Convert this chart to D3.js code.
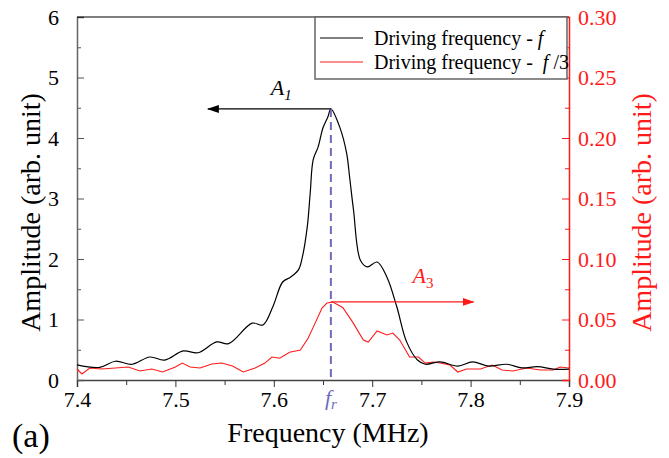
<!DOCTYPE html>
<html>
<head>
<meta charset="utf-8">
<script src="https://cdn.jsdelivr.net/npm/d3@7"></script>
<style>
  body { margin: 0; background: #fff; }
  svg text { font-family: "Liberation Serif", "Times New Roman", serif; }
</style>
</head>
<body>
<svg id="chart" width="669" height="458"></svg>
<script>
// --- Data ---
const freqF = [7.400, 7.423, 7.439, 7.456, 7.474, 7.489, 7.508, 7.523, 7.542, 7.554,
  7.578, 7.589, 7.599, 7.609, 7.617, 7.625, 7.629, 7.634, 7.637, 7.640, 7.645, 7.650,
  7.655, 7.658, 7.667, 7.674, 7.677, 7.681, 7.688, 7.695, 7.705, 7.715, 7.725, 7.735,
  7.746, 7.754, 7.769, 7.787, 7.802, 7.818, 7.837, 7.852, 7.868, 7.884, 7.900];
const ampF = [0.25, 0.21, 0.31, 0.26, 0.38, 0.33, 0.48, 0.45, 0.63, 0.60,
  0.94, 0.91, 1.21, 1.62, 1.70, 1.82, 2.03, 2.53, 3.09, 3.64, 3.85, 4.17,
  4.35, 4.48, 4.18, 3.75, 3.36, 2.81, 1.98, 1.87, 1.95, 1.70, 1.21, 0.63,
  0.33, 0.26, 0.30, 0.23, 0.30, 0.23, 0.26, 0.20, 0.22, 0.18, 0.18];

const freqF3 = [7.400, 7.405, 7.413, 7.425, 7.439, 7.452, 7.464, 7.476, 7.487, 7.500,
  7.507, 7.515, 7.525, 7.537, 7.547, 7.558, 7.569, 7.581, 7.591, 7.598, 7.606, 7.616,
  7.627, 7.635, 7.642, 7.649, 7.654, 7.660, 7.670, 7.680, 7.691, 7.696, 7.705, 7.715,
  7.721, 7.728, 7.738, 7.747, 7.754, 7.762, 7.769, 7.779, 7.787, 7.796, 7.810, 7.822,
  7.832, 7.843, 7.857, 7.871, 7.884, 7.891, 7.900];
const ampF3 = [0.0091, 0.0050, 0.0099, 0.0091, 0.0099, 0.0107, 0.0074, 0.0091, 0.0066, 0.0107,
  0.0140, 0.0107, 0.0099, 0.0132, 0.0140, 0.0116, 0.0066, 0.0099, 0.0140, 0.0190, 0.0180, 0.0230,
  0.0248, 0.0347, 0.0470, 0.0595, 0.0636, 0.0645, 0.0600, 0.0480, 0.0330, 0.0314, 0.0405, 0.0372,
  0.0388, 0.0330, 0.0190, 0.0190, 0.0140, 0.0149, 0.0140, 0.0124, 0.0066, 0.0091, 0.0091, 0.0124,
  0.0083, 0.0074, 0.0099, 0.0083, 0.0083, 0.0107, 0.0099];

const xTicks = [7.4, 7.5, 7.6, 7.7, 7.8, 7.9];
const yLeftTicks = [0, 1, 2, 3, 4, 5, 6];
const yRightTicks = [0, 0.05, 0.10, 0.15, 0.20, 0.25, 0.30];

const peakFreq = 7.658, peakA1 = 4.48, peakA3 = 0.0645;
const arrowA1End = 7.533, arrowA3End = 7.803;

// --- Layout ---
const svg = d3.select("#chart");
const width = +svg.attr("width"), height = +svg.attr("height");
const margin = { top: 17, right: 100, bottom: 78, left: 77 };
const innerW = width - margin.left - margin.right,
  innerH = height - margin.top - margin.bottom;
const red = "#ff1a1a", blue = "#6c6cb8";
const serif = "Liberation Serif, Times New Roman, serif";

const g = svg.append("g").attr("transform", `translate(${margin.left},${margin.top})`);

const x = d3.scaleLinear().domain([7.4, 7.9]).range([0, innerW]);
const yL = d3.scaleLinear().domain([0, 6]).range([innerH, 0]);
const yR = d3.scaleLinear().domain([0, 0.3]).range([innerH, 0]);

// --- Axes ---
const tickFont = (sel) => sel.attr("font-family", serif).selectAll("text").attr("font-size", 22);

// minor ticks first, then major
g.append("g").attr("transform", `translate(0,${innerH})`)
  .call(d3.axisBottom(x).tickValues(d3.range(7.45, 7.9, 0.1)).tickSize(5).tickFormat(""))
  .call((a) => a.select(".domain").remove())
  .selectAll("line").attr("stroke", "#333");
const xAxis = g.append("g").attr("transform", `translate(0,${innerH})`)
  .call(d3.axisBottom(x).tickValues(xTicks).tickSize(7).tickPadding(4).tickFormat(d3.format(".1f")));
xAxis.select(".domain").attr("stroke", "#444").attr("stroke-width", 1.5);
xAxis.selectAll("line").attr("stroke", "#333");
xAxis.call(tickFont).selectAll("text").attr("fill", "#000");

g.append("g")
  .call(d3.axisLeft(yL).tickValues(d3.range(0.5, 6, 1)).tickSize(-4).tickFormat(""))
  .call((a) => a.select(".domain").remove())
  .selectAll("line").attr("stroke", "#555");
const yAxisL = g.append("g")
  .call(d3.axisLeft(yL).tickValues(yLeftTicks).tickSize(-7).tickPadding(18).tickFormat(d3.format("d")));
yAxisL.select(".domain").attr("stroke", "#666").attr("stroke-width", 1.5);
yAxisL.selectAll("line").attr("stroke", "#555");
yAxisL.call(tickFont).selectAll("text").attr("fill", "#000");

g.append("line").attr("x1", 0).attr("x2", innerW).attr("y1", 0).attr("y2", 0)
  .attr("stroke", "#000").attr("stroke-width", 1.2);

g.append("g").attr("transform", `translate(${innerW},0)`)
  .call(d3.axisRight(yR).tickValues(d3.range(0.025, 0.3, 0.05)).tickSize(-4).tickFormat(""))
  .call((a) => a.select(".domain").remove())
  .selectAll("line").attr("stroke", red);
const yAxisR = g.append("g").attr("transform", `translate(${innerW},0)`)
  .call(d3.axisRight(yR).tickValues(yRightTicks).tickSize(-7).tickPadding(9).tickFormat(d3.format(".2f")));
yAxisR.select(".domain").attr("stroke", red).attr("stroke-width", 1.5);
yAxisR.selectAll("line").attr("stroke", red);
yAxisR.call(tickFont).selectAll("text").attr("fill", red);

// --- Axis titles ---
g.append("text")
  .attr("x", innerW / 2 + 5).attr("y", innerH + 62)
  .attr("text-anchor", "middle").attr("font-size", 28)
  .text("Frequency (MHz)");
svg.append("text")
  .attr("transform", `translate(40,${margin.top + innerH / 2 + 14}) rotate(-90)`)
  .attr("text-anchor", "middle").attr("font-size", 28)
  .text("Amplitude (arb. unit)");
svg.append("text")
  .attr("transform", `translate(651,${margin.top + innerH / 2 + 14}) rotate(-90)`)
  .attr("text-anchor", "middle").attr("font-size", 28).attr("fill", red)
  .text("Amplitude (arb. unit)");
svg.append("text").attr("x", 12).attr("y", 447).attr("font-size", 34).text("(a)");

// --- Curves ---
const lineF = d3.line().x((d, i) => x(freqF[i])).y((d) => yL(d)).curve(d3.curveCatmullRom.alpha(0.5));
const lineF3 = d3.line().x((d, i) => x(freqF3[i])).y((d) => yR(d));

g.append("path").datum(ampF3)
  .attr("fill", "none").attr("stroke", red).attr("stroke-width", 1.1).attr("d", lineF3);
g.append("path").datum(ampF)
  .attr("fill", "none").attr("stroke", "#000").attr("stroke-width", 1.2).attr("d", lineF);

// --- Annotations ---
g.append("line")
  .attr("x1", x(peakFreq)).attr("x2", x(peakFreq))
  .attr("y1", yL(peakA1)).attr("y2", innerH)
  .attr("stroke", blue).attr("stroke-width", 2).attr("stroke-dasharray", "8,5");

const defs = svg.append("defs");
[["arrowK", "#000"], ["arrowR", red]].forEach(([id, c]) => {
  defs.append("marker").attr("id", id)
    .attr("viewBox", "0 0 12 8").attr("refX", 11).attr("refY", 4)
    .attr("markerWidth", 12).attr("markerHeight", 8)
    .attr("markerUnits", "userSpaceOnUse").attr("orient", "auto")
    .append("path").attr("d", "M0,0 L12,4 L0,8 Z").attr("fill", c);
});

g.append("line")
  .attr("x1", x(peakFreq)).attr("x2", x(arrowA1End))
  .attr("y1", yL(peakA1)).attr("y2", yL(peakA1))
  .attr("stroke", "#000").attr("stroke-width", 1.2).attr("marker-end", "url(#arrowK)");
g.append("line")
  .attr("x1", x(peakFreq)).attr("x2", x(arrowA3End))
  .attr("y1", yR(peakA3)).attr("y2", yR(peakA3))
  .attr("stroke", red).attr("stroke-width", 1.2).attr("marker-end", "url(#arrowR)");

const lblA1 = g.append("text").attr("x", x(7.597)).attr("y", yL(peakA1) - 14).attr("font-size", 22);
lblA1.append("tspan").attr("font-style", "italic").text("A");
lblA1.append("tspan").attr("font-style", "italic").attr("font-size", 15).attr("dy", 5).text("1");

const lblA3 = g.append("text").attr("x", x(7.741)).attr("y", yR(peakA3) - 19).attr("font-size", 22).attr("fill", red);
lblA3.append("tspan").attr("font-style", "italic").text("A");
lblA3.append("tspan").attr("font-size", 15).attr("dy", 5).text("3");

const lblFr = g.append("text").attr("x", x(peakFreq)).attr("y", innerH + 25)
  .attr("text-anchor", "middle").attr("font-size", 22).attr("fill", blue);
lblFr.append("tspan").attr("font-style", "italic").text("f");
lblFr.append("tspan").attr("font-style", "italic").attr("font-size", 15).attr("dy", 4).text("r");

// --- Legend ---
const leg = svg.append("g").attr("transform", "translate(315,17)");
leg.append("rect").attr("width", 252).attr("height", 62)
  .attr("fill", "#fff").attr("stroke", "#666").attr("stroke-width", 1.5);
[["#000", "f", ""], [red, " f", " /3"]].forEach(([c, it, tail], i) => {
  const yy = 21 + i * 24;
  leg.append("line").attr("x1", 5).attr("x2", 48).attr("y1", yy).attr("y2", yy)
    .attr("stroke", c).attr("stroke-width", 1.2);
  const t = leg.append("text").attr("x", 59).attr("y", yy + 7).attr("font-size", 20)
    .attr("xml:space", "preserve");
  t.append("tspan").text("Driving frequency - ");
  t.append("tspan").attr("font-style", "italic").text(it);
  if (tail) t.append("tspan").text(tail);
});
</script>
</body>
</html>
